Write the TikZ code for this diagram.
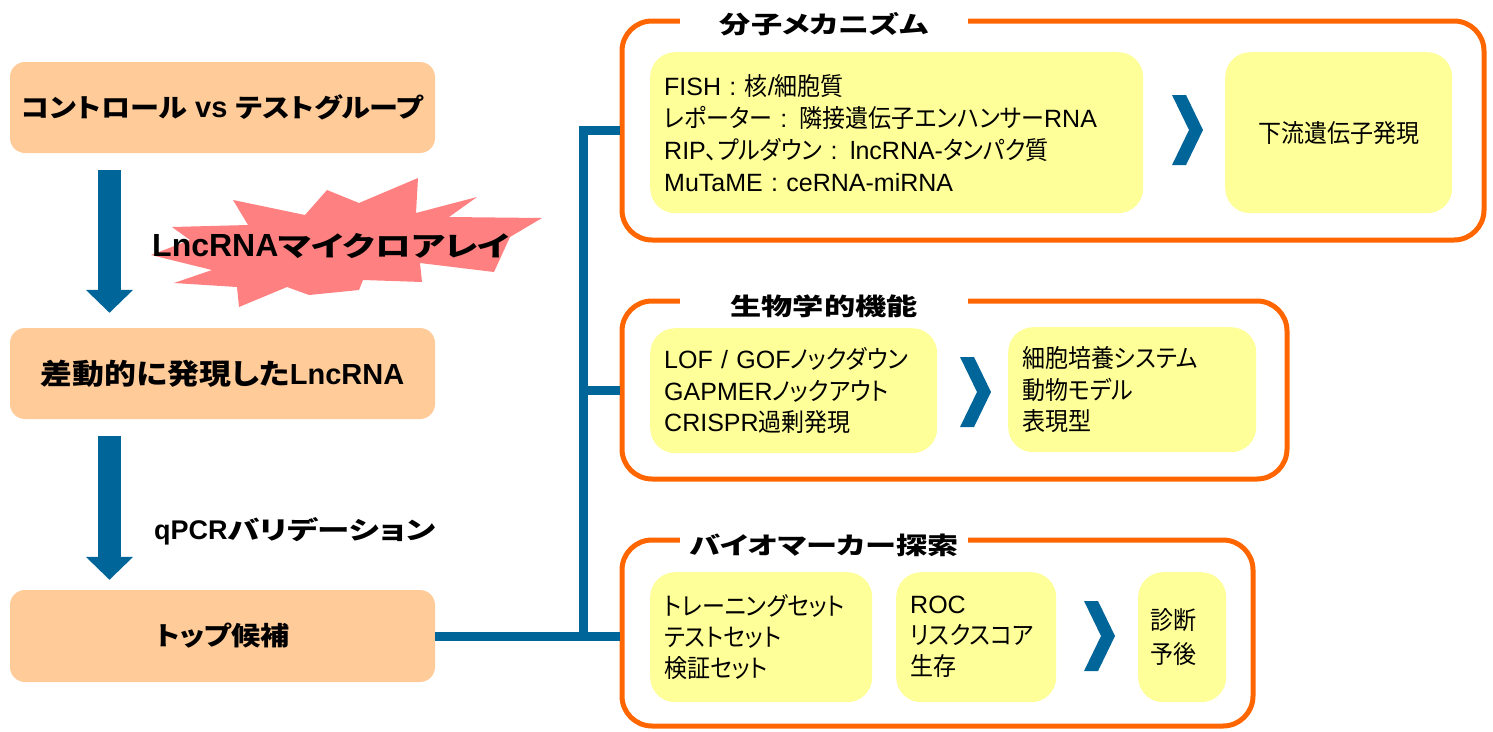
\documentclass[tikz,border=0pt]{standalone}
\usepackage{fontspec}
\setmainfont{Liberation Sans}
\newfontfamily\jprfont{Noto Sans CJK JP}[FakeStretch=0.92,RawFeature=+palt]
\newfontfamily\jpbfont{Noto Sans CJK JP}[FakeStretch=1.3,RawFeature=+palt]
\newfontfamily\jpbnfont{Noto Sans CJK JP}[FakeStretch=1.12,RawFeature=+palt]
\newcommand\JR[1]{{\jprfont #1}}
\newcommand\JB[1]{{\jpbfont\bfseries #1}}
\newcommand\JN[1]{{\jpbnfont\bfseries\fontsize{26}{30}\selectfont #1}}
\usetikzlibrary{arrows.meta}
\definecolor{peach}{HTML}{FFCC99}
\definecolor{pale}{HTML}{FFFF99}
\definecolor{orng}{HTML}{FF6600}
\definecolor{blu}{HTML}{006699}
\definecolor{burst}{HTML}{FF8080}
\begin{document}
\begin{tikzpicture}[x=1pt,y=-1pt,
  stagebox/.style={fill=peach, rounded corners=15pt, minimum width=425pt, minimum height=91pt, inner sep=0pt, font=\fontsize{29}{32}\selectfont\bfseries},
  panel/.style={draw=orng, line width=5pt, rounded corners=30pt, inner sep=0pt},
  ptitle/.style={fill=white, minimum width=288pt, inner sep=3pt, font=\fontsize{24}{28}\selectfont\bfseries},
  item/.style={fill=pale, rounded corners=25pt, align=left, inner xsep=14pt, inner ysep=0pt, anchor=north west, font=\fontsize{25}{32}\selectfont},
  bigarrow/.style={draw=blu, line width=23pt, -{Triangle[width=46pt,length=23pt]}},
  conn/.style={draw=blu, line width=9pt},
  chev/.pic={\fill[blu] (0,-35) -- (14,-35) -- (31,0) -- (14,35) -- (0,35) -- (17,0) -- cycle;}
]
\useasboundingbox (0,0) rectangle (1493,731);

% left column
\node[stagebox] (s1) at (222.5,107.5) {\JN{コントロール} vs \JN{テストグループ}};
\node[stagebox] (s2) at (222.5,373.5) {\JN{\fontsize{28.5}{32}\selectfont 差動的に発現した}LncRNA};
\node[stagebox, minimum height=92pt] (s3) at (222.5,636) {\JN{トップ候補}};

\coordinate (ax) at (109.5,0);
\draw[bigarrow, shorten <=17pt, shorten >=15pt] (s1.south -| ax) -- (s2.north -| ax);
\draw[bigarrow, shorten <=17pt, shorten >=10pt] (s2.south -| ax) -- (s3.north -| ax);

% starburst
\fill[burst] (233,200) -- (305,215) -- (327,190) -- (359,203) -- (418,178) -- (416,213)
  -- (477,197) -- (449,217) -- (542,218) -- (510,237) -- (494,272) -- (420,263)
  -- (422,282) -- (363,280) -- (359,290) -- (309,295) -- (287,287) -- (239,307)
  -- (237,287) -- (174,283) -- (212,270) -- (151,255) -- (190,240) -- (172,227)
  -- (248,225) -- cycle;
\node[anchor=west, inner sep=0pt, font=\fontsize{32}{36}\selectfont\bfseries] (micro) at (152,246)
  {LncRNA\JB{\fontsize{27.5}{34}\selectfont マイクロアレイ}};
\node[anchor=west, inner sep=0pt, font=\fontsize{27}{30}\selectfont\bfseries] (qpcr) at (154,531)
  {qPCR\JB{\fontsize{25}{30}\selectfont バリデーション}};

% panels
\node[panel, minimum width=862pt, minimum height=219pt] (p1) at (1053,130.5) {};
\node[panel, minimum width=665pt, minimum height=178pt] (p2) at (954.5,390) {};
\node[panel, minimum width=631pt, minimum height=186pt] (p3) at (937.5,633) {};
\node[ptitle] (t1) at (824,24) {\JB{分子メカニズム}};
\node[ptitle] (t2) at (824,306) {\JB{生物学的機能}};
\node[ptitle] (t3) at (824,545) {\JB{バイオマーカー探索}};

% connectors
\coordinate (bus) at (583,0);
\draw[conn] (p1.west) -| (bus |- s3.east);
\draw[conn] (bus |- p2.west) -- (p2.west);
\draw[conn] (s3.east) -- (s3.east -| p3.west);

% panel 1
\node[item, text width=465pt, minimum height=161pt] (a1) at (650,52)
  {FISH : \JR{核}/\JR{細胞質}\\
   \JR{レポーター} : \JR{隣接遺伝子エンハンサー}RNA\\
   RIP\JR{、プルダウン} : lncRNA-\JR{タンパク質}\\
   MuTaME : ceRNA-miRNA};
\pic at (1172,130) {chev};
\node[item, align=center, text width=199pt, minimum height=161pt] (a2) at (1225,52)
  {\JR{下流遺伝子発現}};

% panel 2
\node[item, text width=259pt, minimum height=125pt, font=\fontsize{25}{31.5}\selectfont] (b1) at (650,328)
  {LOF / GOF\JR{ノックダウン}\\
   GAPMER\JR{ノックアウト}\\
   CRISPR\JR{過剰発現}};
\pic at (960,392) {chev};
\node[item, text width=220pt, minimum height=125pt, font=\fontsize{25}{31.5}\selectfont] (b2) at (1008,327)
  {\JR{細胞培養システム}\\
   \JR{動物モデル}\\
   \JR{表現型}};

% panel 3
\node[item, text width=194pt, minimum height=130pt, font=\fontsize{25}{31}\selectfont] (c1) at (650,572)
  {\JR{トレーニングセット}\\
   \JR{テストセット}\\
   \JR{検証セット}};
\node[item, text width=132pt, minimum height=130pt, font=\fontsize{25}{31}\selectfont] (c2) at (896,572)
  {ROC\\
   \JR{リスクスコア}\\
   \JR{生存}};
\pic at (1084,636) {chev};
\node[item, inner xsep=12pt, text width=64pt, minimum height=130pt, font=\fontsize{25}{34}\selectfont] (c3) at (1138,572)
  {\JR{診断}\\
   \JR{予後}};
\end{tikzpicture}
\end{document}
